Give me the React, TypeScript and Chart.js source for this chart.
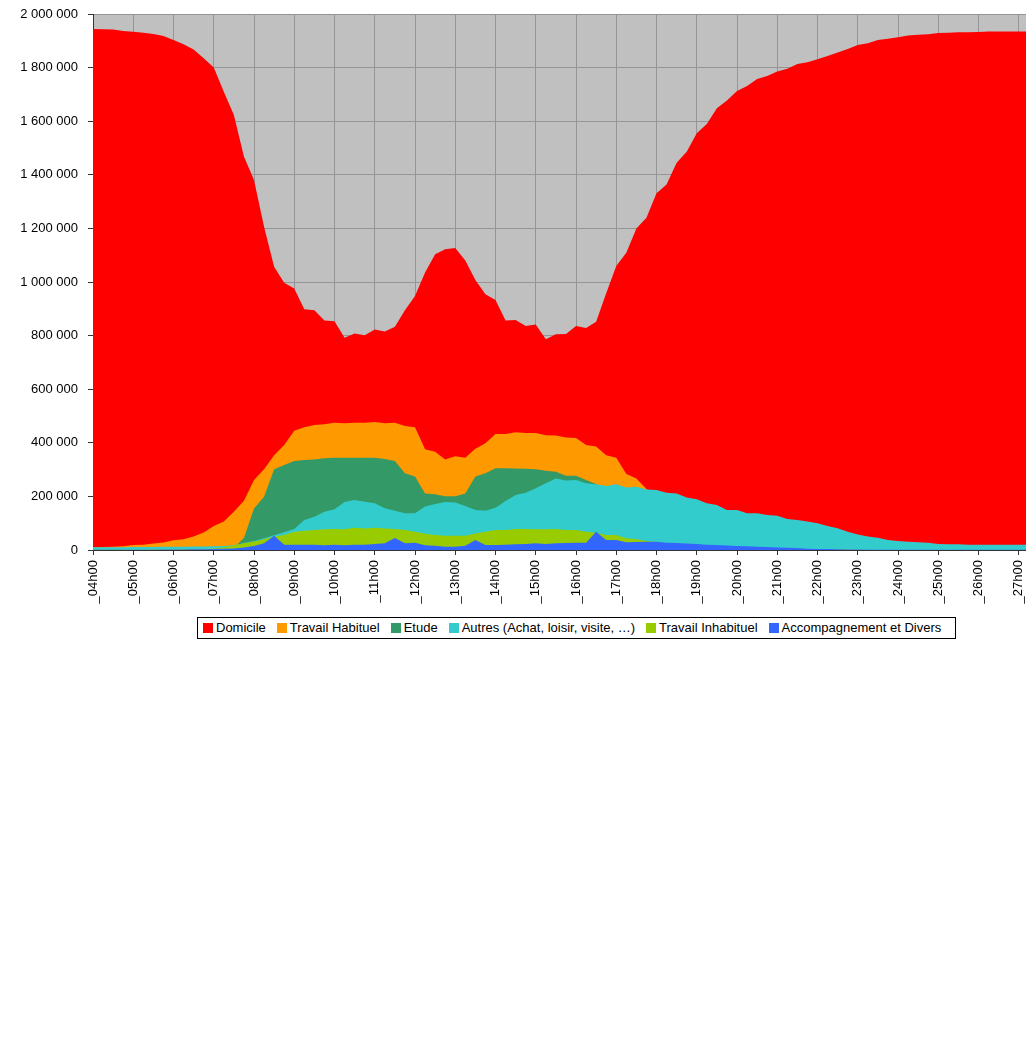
import React, { useEffect, useRef } from "react";
import { Chart, registerables } from "chart.js";

Chart.register(...registerables);

// Hourly tick labels (x axis), data every quarter hour
const hourTickLabels = [
  "_04h00", "_05h00", "_06h00", "_07h00", "_08h00", "_09h00", "_10h00", "_11h00",
  "_12h00", "_13h00", "_14h00", "_15h00", "_16h00", "_17h00", "_18h00", "_19h00",
  "_20h00", "_21h00", "_22h00", "_23h00", "_24h00", "_25h00", "_26h00", "_27h00", "_28h00",
];
const quarterSuffixes = ["00", "15", "30", "45"];

const yTickValues = [0, 200000, 400000, 600000, 800000, 1000000, 1200000, 1400000, 1600000, 1800000, 2000000];

const seriesNames = [
  "Domicile",
  "Travail Habituel",
  "Etude",
  "Autres (Achat, loisir, visite, …)",
  "Travail Inhabituel",
  "Accompagnement et Divers",
];
const seriesColors = ["#FF0000", "#FF9900", "#339966", "#33CCCC", "#99CC00", "#3366FF"];

const domicile = [
  1944000, 1943000, 1942000, 1937000, 1934000, 1930000, 1925000, 1918000, 1903000, 1887000,
  1868000, 1835000, 1800000, 1710000, 1623000, 1468000, 1381000, 1206000, 1057000, 997000,
  976000, 898000, 895000, 856000, 854000, 792000, 808000, 801000, 823000, 815000,
  833000, 895000, 948000, 1035000, 1104000, 1122000, 1127000, 1080000, 1007000, 954000,
  933000, 856000, 858000, 836000, 841000, 786000, 805000, 806000, 836000, 828000,
  852000, 958000, 1060000, 1109000, 1200000, 1240000, 1331000, 1364000, 1445000, 1486000,
  1555000, 1590000, 1648000, 1677000, 1713000, 1731000, 1757000, 1769000, 1785000, 1796000,
  1813000, 1820000, 1831000, 1843000, 1856000, 1869000, 1884000, 1891000, 1903000, 1908000,
  1913000, 1920000, 1923000, 1924000, 1929000, 1930000, 1932000, 1932000, 1933000, 1935000,
  1935000, 1935000, 1935000, 1935000, 1935000, 1935000, 1935000,
];

const travailHabituel = [
  10000, 11000, 12000, 14000, 19000, 20000, 24000, 28000, 36000, 40000,
  50000, 65000, 90000, 106000, 143000, 184000, 261000, 301000, 354000, 392000,
  445000, 458000, 466000, 469000, 475000, 473000, 475000, 475000, 478000, 473000,
  475000, 463000, 458000, 376000, 367000, 338000, 350000, 344000, 378000, 398000,
  433000, 433000, 439000, 437000, 437000, 428000, 427000, 420000, 418000, 392000,
  386000, 354000, 344000, 284000, 267000, 228000, 200000, 180000, 160000, 140000,
  120000, 100000, 85000, 70000, 60000, 50000, 42000, 36000, 30000, 26000,
  22000, 19000, 16000, 14000, 12000, 11000, 10000, 9000, 8000, 8000,
  7000, 7000, 7000, 7000, 7000, 7000, 7000, 7000, 7000, 7000,
  7000, 7000, 7000, 7000, 7000, 7000, 7000,
];

const etude = [
  2000, 2000, 2000, 2000, 2000, 2000, 2000, 3000, 3000, 3000,
  4000, 4000, 5000, 5000, 8000, 45000, 155000, 199000, 301000, 317000,
  332000, 336000, 338000, 342000, 344000, 344000, 344000, 344000, 344000, 340000,
  332000, 286000, 274000, 211000, 208000, 201000, 201000, 211000, 274000, 286000,
  305000, 305000, 304000, 303000, 301000, 296000, 292000, 277000, 277000, 261000,
  246000, 215000, 185000, 150000, 120000, 95000, 75000, 60000, 48000, 40000,
  33000, 28000, 24000, 20000, 17000, 15000, 13000, 11000, 10000, 9000,
  8000, 7000, 6000, 5000, 5000, 4000, 4000, 3000, 3000, 3000,
  3000, 2000, 2000, 2000, 2000, 2000, 2000, 2000, 2000, 2000,
  2000, 2000, 2000, 2000, 2000, 2000, 2000,
];

const autres = [
  10000, 10000, 10000, 10000, 11000, 11000, 11000, 12000, 12000, 12000,
  13000, 13000, 14000, 15000, 18000, 26000, 34000, 44000, 55000, 66000,
  78000, 112000, 124000, 143000, 152000, 179000, 187000, 180000, 174000, 156000,
  146000, 137000, 137000, 162000, 172000, 179000, 177000, 164000, 149000, 146000,
  158000, 183000, 205000, 214000, 230000, 249000, 267000, 259000, 261000, 249000,
  245000, 239000, 245000, 233000, 236000, 226000, 224000, 214000, 211000, 196000,
  189000, 174000, 168000, 149000, 149000, 137000, 137000, 131000, 128000, 116000,
  112000, 106000, 100000, 90000, 81000, 68000, 58000, 50000, 46000, 37000,
  34000, 31000, 29000, 27000, 22000, 21000, 21000, 20000, 20000, 20000,
  20000, 20000, 20000, 20000, 20000, 20000, 20000,
];

const travailInhabituel = [
  1000, 1000, 1000, 1000, 1000, 1000, 2000, 2000, 2000, 3000,
  3000, 4000, 6000, 10000, 17000, 25000, 32000, 40000, 50000, 56000,
  68000, 72000, 75000, 77000, 78000, 77000, 83000, 80000, 83000, 80000,
  78000, 75000, 68000, 61000, 56000, 53000, 53000, 53000, 62000, 68000,
  75000, 75000, 78000, 78000, 77000, 77000, 78000, 75000, 75000, 68000,
  64000, 56000, 56000, 44000, 40000, 34000, 30000, 24000, 21000, 19000,
  17000, 15000, 14000, 12000, 11000, 10000, 9000, 8000, 7000, 6000,
  5000, 4000, 3000, 2500, 2000, 1500, 1000, 300, 300, 300,
  300, 300, 300, 300, 300, 300, 300, 300, 300, 300,
  300, 300, 300, 300, 300, 300, 300,
];

const accompagnement = [
  500, 500, 500, 500, 1000, 1000, 1000, 1500, 2000, 2000,
  3000, 3000, 4000, 5000, 6000, 9000, 15000, 25000, 53000, 20000,
  20000, 20000, 20000, 18000, 20000, 18000, 20000, 20000, 22000, 25000,
  45000, 25000, 27000, 18000, 16000, 12000, 12000, 16000, 37000, 19000,
  19000, 20000, 21000, 22000, 25000, 22000, 25000, 26000, 27000, 27000,
  68000, 37000, 37000, 29000, 30000, 31000, 31000, 27000, 26000, 24000,
  22000, 20000, 19000, 17000, 15000, 14000, 12000, 11000, 9000, 8000,
  7000, 5000, 4000, 3500, 3000, 2000, 1500, 1200, 1000, 1000,
  1000, 1000, 1000, 1000, 1000, 1000, 1000, 1000, 1000, 1000,
  1000, 1000, 1000, 1000, 1000, 1000, 1000,
];

const seriesValues = [domicile, travailHabituel, etude, autres, travailInhabituel, accompagnement];

// quarter-hour categories built from the hourly labels
const categories: string[] = [];
hourTickLabels.forEach((h, hi) => {
  const base = h.replace("_", "").replace("h00", "h");
  if (hi === hourTickLabels.length - 1) categories.push(base + "00");
  else quarterSuffixes.forEach((q) => categories.push(base + q));
});

const FONT = "'Liberation Sans', Arial, Helvetica, sans-serif";

const fmt = (v: number) => String(v).replace(/\B(?=(\d{3})+(?!\d))/g, " ");

const plotBackground = {
  id: "plotBackground",
  beforeDraw(chart: any) {
    const { ctx, chartArea: a } = chart;
    ctx.save();
    ctx.fillStyle = "#C0C0C0";
    ctx.fillRect(a.left, a.top, a.right - a.left, a.bottom - a.top);
    ctx.restore();
  },
};

function AreaChart() {
  const ref = useRef<HTMLCanvasElement | null>(null);

  useEffect(() => {
    if (!ref.current) return;
    const n = seriesNames.length;
    const chart = new Chart(ref.current, {
      type: "line",
      data: {
        labels: categories,
        datasets: seriesNames.map((name, k) => ({
          label: name,
          data: seriesValues[k],
          backgroundColor: seriesColors[k],
          borderColor: "rgba(0,0,0,0)",
          borderWidth: 0,
          pointRadius: 0,
          pointHoverRadius: 0,
          tension: 0,
          fill: "origin",
          order: n - k,
        })),
      },
      options: {
        responsive: false,
        animation: false,
        devicePixelRatio: 1,
        events: [],
        layout: { padding: { top: 14, right: 11, left: 0, bottom: 0 } },
        plugins: {
          legend: { display: false },
          tooltip: { enabled: false },
          title: { display: false },
        },
        scales: {
          x: {
            type: "category",
            offset: false,
            afterFit: (s: any) => {
              s.height = 90;
              s.paddingRight = 0;
            },
            grid: {
              display: true,
              drawOnChartArea: true,
              color: (c: any) => (c.index % 4 === 0 ? "#959595" : "rgba(0,0,0,0)"),
              tickColor: (c: any) => (c.index % 4 === 0 ? "#333333" : "rgba(0,0,0,0)"),
              tickLength: 5,
              lineWidth: 1,
            },
            border: { display: true, color: "#333333", width: 1 },
            ticks: {
              autoSkip: false,
              maxRotation: 90,
              minRotation: 90,
              padding: 5,
              color: "#000000",
              font: { family: FONT, size: 13 },
              callback: (_v: any, i: number) => (i % 4 === 0 ? hourTickLabels[i / 4] : ""),
            },
          },
          y: {
            min: yTickValues[0],
            max: yTickValues[yTickValues.length - 1],
            afterFit: (s: any) => {
              s.width = 93;
              s.paddingTop = 0;
              s.paddingBottom = 0;
            },
            afterBuildTicks: (s: any) => {
              s.ticks = yTickValues.map((v) => ({ value: v }));
            },
            grid: {
              color: "#959595",
              tickColor: "#333333",
              tickLength: 5,
              lineWidth: 1,
            },
            border: { display: true, color: "#333333", width: 1 },
            ticks: {
              padding: 10,
              color: "#000000",
              font: { family: FONT, size: 13 },
              callback: (v: any) => fmt(Number(v)),
            },
          },
        },
      },
      plugins: [plotBackground],
    });
    return () => chart.destroy();
  }, []);

  return <canvas ref={ref} width={1070} height={640} style={{ display: "block", width: 1070, height: 640 }} />;
}

function Legend() {
  return (
    <div
      style={{
        position: "absolute",
        left: 197,
        top: 617,
        border: "1px solid #000",
        background: "#fff",
        display: "flex",
        alignItems: "center",
        gap: 11,
        padding: "2px 14px 3px 5px",
        fontFamily: FONT,
        fontSize: 13,
        lineHeight: "15px",
        color: "#000",
        whiteSpace: "nowrap",
      }}
    >
      {seriesNames.map((name, k) => (
        <span key={name} style={{ display: "inline-flex", alignItems: "center" }}>
          <span
            style={{
              display: "inline-block",
              width: 10,
              height: 10,
              background: seriesColors[k],
              marginRight: 3,
            }}
          />
          {name}
        </span>
      ))}
    </div>
  );
}

export default function App() {
  return (
    <div
      style={{
        position: "absolute",
        left: 0,
        top: 0,
        width: 1026,
        height: 1063,
        overflow: "hidden",
        background: "#fff",
      }}
    >
      <AreaChart />
      <Legend />
    </div>
  );
}
